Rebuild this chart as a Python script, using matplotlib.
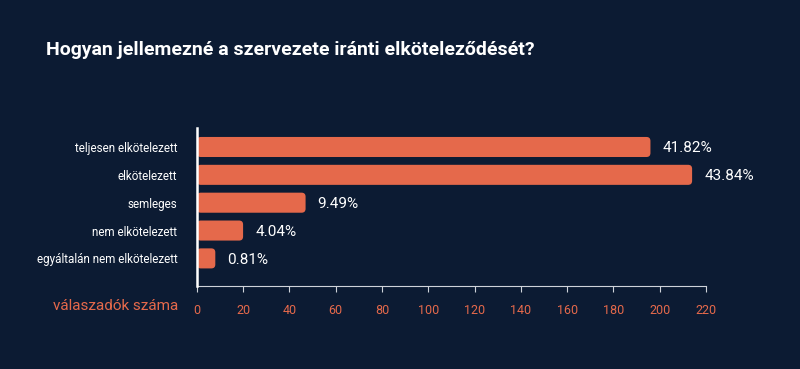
import matplotlib
matplotlib.use("Agg")
import matplotlib.pyplot as plt
from matplotlib.patches import FancyBboxPatch

categories = [
    "teljesen elkötelezett",
    "elkötelezett",
    "semleges",
    "nem elkötelezett",
    "egyáltalán nem elkötelezett",
]
counts = [196, 214, 47, 20, 8]
pctLabels = ["41.82%", "43.84%", "9.49%", "4.04%", "0.81%"]
xTicks = [0, 20, 40, 60, 80, 100, 120, 140, 160, 180, 200, 220]

BG = "#0c1b33"
BAR = "#e5694b"
plt.rcParams["font.family"] = ["Roboto", "DejaVu Sans"]

fig = plt.figure(figsize=(8, 3.69), dpi=100, facecolor=BG)
ax = fig.add_axes([0.246, 0.225, 0.6365, 0.428], facecolor=BG)

barH = 0.72
xPerPx = 220 / 509
yPerPx = 1 / 27.9
for i, v in enumerate(counts):
    patch = FancyBboxPatch((0, i - barH / 2), v, barH,
                           boxstyle="round,pad=0,rounding_size=%.3f" % (4 * xPerPx),
                           mutation_aspect=yPerPx / xPerPx,
                           facecolor=BAR, edgecolor="none", zorder=2)
    ax.add_patch(patch)
    ax.text(v + 12 * xPerPx, i + 0.05, pctLabels[i], color="white",
            fontsize=11, va="center", ha="left")

ax.set_xlim(0, 220)
ax.set_ylim(4.99, -0.68)
ax.set_yticks(range(len(categories)))
ax.set_yticklabels(categories, color="white", fontsize=8.4)
ax.tick_params(axis="y", length=0, pad=14)
ax.set_xticks(xTicks)
ax.set_xticklabels([str(t) for t in xTicks], color=BAR, fontsize=9)
ax.tick_params(axis="x", length=4, width=0.8, color="#cfd3da", pad=9)

for s in ["top", "right"]:
    ax.spines[s].set_visible(False)
ax.spines["left"].set_color("white")
ax.spines["left"].set_linewidth(1.8)
ax.spines["left"].set_zorder(3)
ax.spines["bottom"].set_color("#cfd3da")
ax.spines["bottom"].set_linewidth(0.8)

fig.text(46 / 800, 1 - 50 / 369, "Hogyan jellemezné a szervezete iránti elköteleződését?",
         color="white", fontsize=14, fontweight="bold", va="center", ha="left")
fig.text(178 / 800, 1 - 306 / 369, "válaszadók száma", color=BAR,
         fontsize=11, va="center", ha="right")

fig.savefig("out.png", dpi=100, facecolor=BG)
